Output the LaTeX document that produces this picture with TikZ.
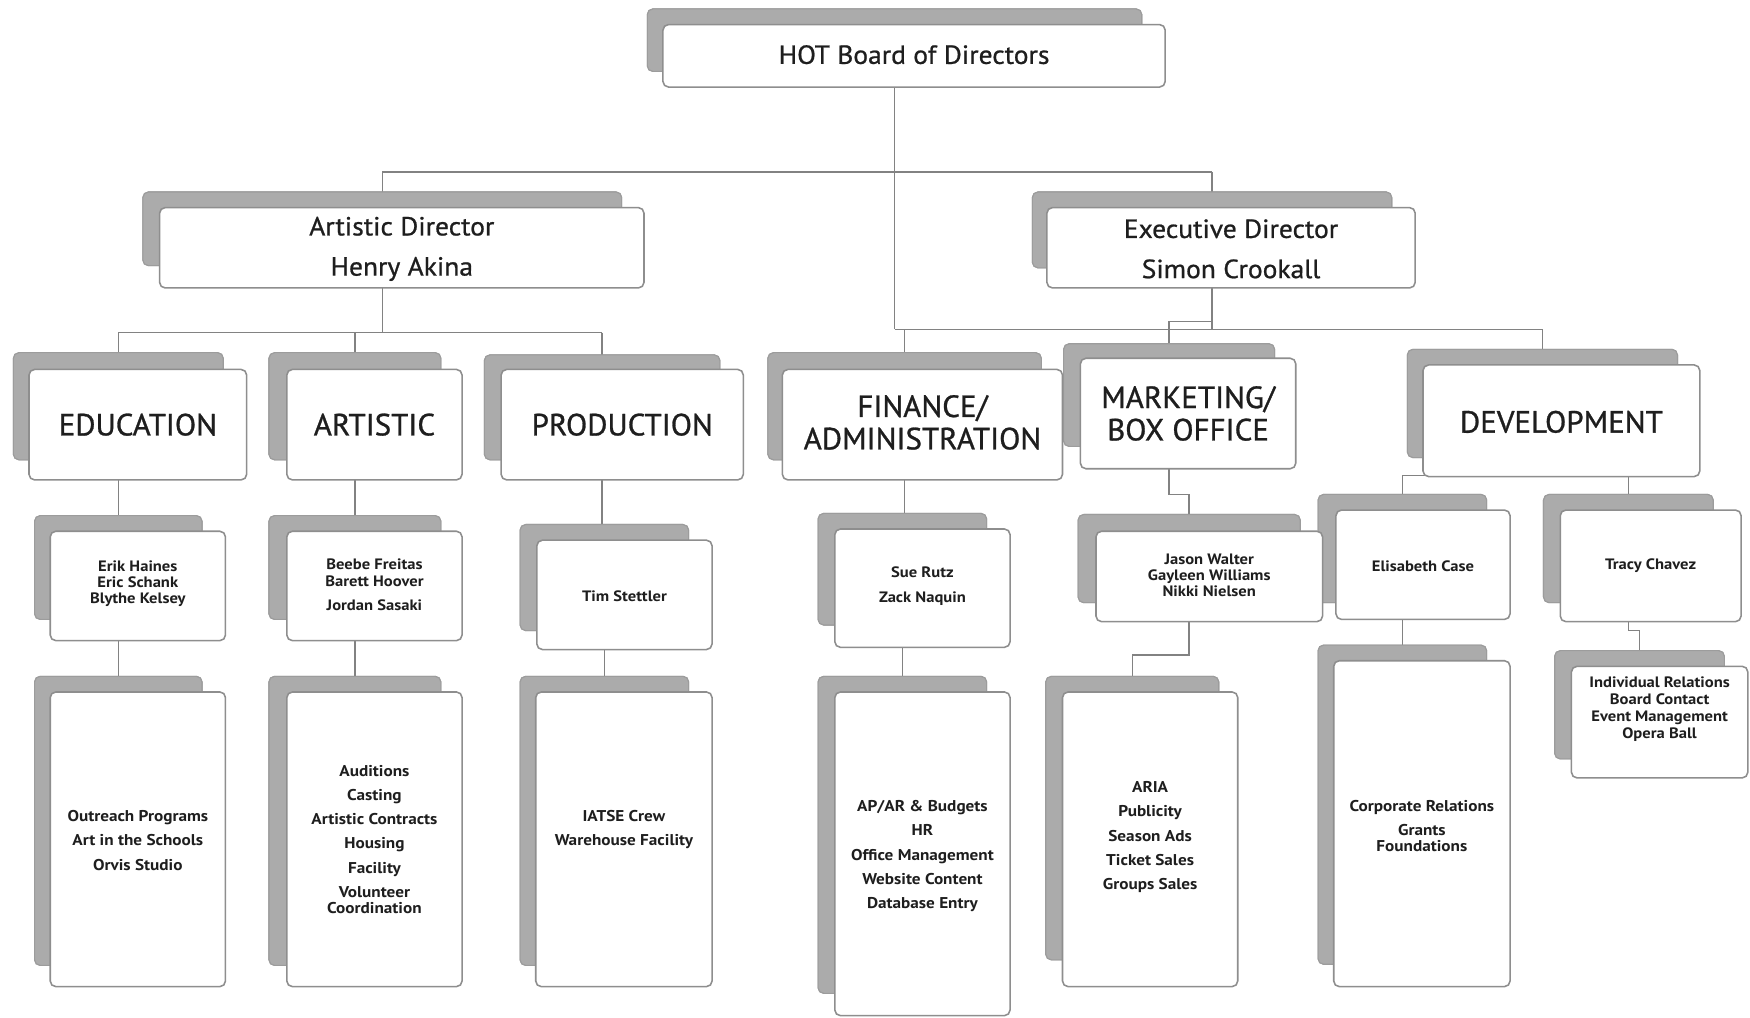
\documentclass[tikz,border=0pt]{standalone}
\usepackage{fontspec}
\setmainfont{PT Sans}
\newfontfamily\headfont{PT Sans}[FakeStretch=1.05, FakeBold=0.8]
\newfontfamily\deptfont{PT Sans}[FakeStretch=1.01, FakeBold=0.9]
\newfontfamily\smallfont{PT Sans}[FakeStretch=1.1]
\usetikzlibrary{calc}
\definecolor{shfill}{HTML}{ABABAB}
\definecolor{shdraw}{HTML}{9C9C9C}
\definecolor{frdraw}{HTML}{8E8E8E}
\definecolor{lncol}{HTML}{828282}
\definecolor{txt}{HTML}{1E1E1E}
\tikzset{
  shadowbox/.style={draw=shdraw, fill=shfill, rounded corners=5pt, line width=1pt, inner sep=0pt},
  frontbox/.style={draw=frdraw, fill=white, rounded corners=5pt, line width=1.4pt, inner sep=0pt},
  conn/.style={draw=lncol, line width=1.3pt},
  titletxt/.style={font=\headfont\fontsize{23.5}{26}\selectfont, text=txt, align=center},
  dirtxt/.style={font=\headfont\fontsize{23.5}{36}\selectfont, text=txt, align=center},
  depttxt/.style={font=\deptfont\fontsize{27.5}{29}\selectfont, text=txt, align=center},
  nametxt/.style={font=\smallfont\bfseries\fontsize{13.5}{14.5}\selectfont, text=txt, align=center},
  functxt/.style={font=\smallfont\bfseries\fontsize{14}{21.7}\selectfont, text=txt, align=center},
  indtxt/.style={font=\smallfont\bfseries\fontsize{13.5}{15.2}\selectfont, text=txt, align=center},
}
% \mkbox{style}{name}{x1}{y1}{x2}{y2}
\newcommand{\mkbox}[6]{\node[#1, minimum width={(#5)-(#3)}, minimum height={(#6)-(#4)}] (#2) at ({((#3)+(#5))/2},{((#4)+(#6))/2}) {};}
\begin{document}
\begin{tikzpicture}[x=1pt,y=-1pt]
\useasboundingbox (0,0) rectangle (1568,912);
\fill[white] (0,0) rectangle (1568,912);

% bus levels
\coordinate (yTop) at (0,154);
\coordinate (yMid) at (0,295);
\coordinate (yBox) at (0,288);
\coordinate (yA) at (0,298);
\coordinate (yJ) at (0,443);
\coordinate (yD) at (0,426);
\coordinate (yK) at (0,587);
\coordinate (yT) at (0,565);

% shadow boxes
\mkbox{shadowbox}{boardS}{580}{8}{1023}{64}
\mkbox{shadowbox}{adS}{128}{172}{557}{238}
\mkbox{shadowbox}{edS}{925}{172}{1247}{240}
\mkbox{shadowbox}{eduS}{12}{316}{200}{412}
\mkbox{shadowbox}{artS}{241}{316}{395}{412}
\mkbox{shadowbox}{prodS}{434}{318}{645}{412}
\mkbox{shadowbox}{finS}{688}{316}{933}{412}
\mkbox{shadowbox}{mktS}{953}{308}{1142}{400}
\mkbox{shadowbox}{devS}{1261}{313}{1503}{410}
\mkbox{shadowbox}{erikS}{31}{462}{181}{555}
\mkbox{shadowbox}{beebeS}{241}{462}{395}{555}
\mkbox{shadowbox}{timS}{466}{470}{617}{565}
\mkbox{shadowbox}{sueS}{733}{460}{884}{560}
\mkbox{shadowbox}{jasonS}{966}{461}{1165}{540}
\mkbox{shadowbox}{elisS}{1181}{443}{1332}{540}
\mkbox{shadowbox}{tracyS}{1383}{443}{1535}{540}
\mkbox{shadowbox}{outrS}{31}{606}{181}{865}
\mkbox{shadowbox}{audS}{241}{606}{395}{865}
\mkbox{shadowbox}{iatseS}{466}{606}{617}{865}
\mkbox{shadowbox}{aparS}{733}{606}{884}{890}
\mkbox{shadowbox}{ariaS}{937}{606}{1092}{860}
\mkbox{shadowbox}{corpS}{1181}{578}{1332}{864}
\mkbox{shadowbox}{indivS}{1393}{583}{1545}{680}

% connectors (between shadow centres; boxes are redrawn over them)
\draw[conn] (boardS.center) -- (boardS.center |- yMid);
\draw[conn] (adS.center |- yTop) -- (edS.center |- yTop);
\draw[conn] (adS.center |- yTop) -- (adS.center);
\draw[conn] (edS.center |- yTop) -- (edS.center);
\draw[conn] (edS.center) -- (edS.center |- yMid);
\draw[conn] (boardS.center |- yMid) -- (devS.center |- yMid);
\draw[conn] (mktS.center |- yBox) rectangle (edS.center |- yMid);
\draw[conn] (finS.center |- yMid) -- (finS.center);
\draw[conn] (mktS.center |- yMid) -- (mktS.center);
\draw[conn] (devS.center |- yMid) -- (devS.center);
\draw[conn] (adS.center) -- (adS.center |- yA);
\draw[conn] (eduS.center |- yA) -- (prodS.center |- yA);
\draw[conn] (eduS.center |- yA) -- (eduS.center);
\draw[conn] (artS.center |- yA) -- (artS.center);
\draw[conn] (prodS.center |- yA) -- (prodS.center);
\draw[conn] (eduS.center) -- (eduS.center |- erikS.center);
\draw[conn] (artS.center) -- (artS.center |- beebeS.center);
\draw[conn] (prodS.center) -- (prodS.center |- timS.center);
\draw[conn] (finS.center) -- (finS.center |- sueS.center);
\draw[conn] (mktS.center) -- (mktS.center |- yJ) -| (jasonS.center);
\draw[conn] (devS.center) -- (devS.center |- yD);
\draw[conn] (elisS.center |- yD) -- (tracyS.center |- yD);
\draw[conn] (elisS.center |- yD) -- (elisS.center);
\draw[conn] (tracyS.center |- yD) -- (tracyS.center);
\draw[conn] (erikS.center) -- (erikS.center |- outrS.center);
\draw[conn] (beebeS.center) -- (beebeS.center |- audS.center);
\draw[conn] (timS.center) -- (timS.center |- iatseS.center);
\draw[conn] (sueS.center) -- (sueS.center |- aparS.center);
\draw[conn] (jasonS.center) -- (jasonS.center |- yK) -| (ariaS.center);
\draw[conn] (elisS.center) -- (elisS.center |- corpS.center);
\draw[conn] (tracyS.center) -- (tracyS.center |- yT) -| (indivS.center);

% shadow boxes again, on top of connectors
\mkbox{shadowbox}{boardS2}{580}{8}{1023}{64}
\mkbox{shadowbox}{adS2}{128}{172}{557}{238}
\mkbox{shadowbox}{edS2}{925}{172}{1247}{240}
\mkbox{shadowbox}{eduS2}{12}{316}{200}{412}
\mkbox{shadowbox}{artS2}{241}{316}{395}{412}
\mkbox{shadowbox}{prodS2}{434}{318}{645}{412}
\mkbox{shadowbox}{finS2}{688}{316}{933}{412}
\mkbox{shadowbox}{mktS2}{953}{308}{1142}{400}
\mkbox{shadowbox}{devS2}{1261}{313}{1503}{410}
\mkbox{shadowbox}{erikS2}{31}{462}{181}{555}
\mkbox{shadowbox}{beebeS2}{241}{462}{395}{555}
\mkbox{shadowbox}{timS2}{466}{470}{617}{565}
\mkbox{shadowbox}{sueS2}{733}{460}{884}{560}
\mkbox{shadowbox}{jasonS2}{966}{461}{1165}{540}
\mkbox{shadowbox}{elisS2}{1181}{443}{1332}{540}
\mkbox{shadowbox}{tracyS2}{1383}{443}{1535}{540}
\mkbox{shadowbox}{outrS2}{31}{606}{181}{865}
\mkbox{shadowbox}{audS2}{241}{606}{395}{865}
\mkbox{shadowbox}{iatseS2}{466}{606}{617}{865}
\mkbox{shadowbox}{aparS2}{733}{606}{884}{890}
\mkbox{shadowbox}{ariaS2}{937}{606}{1092}{860}
\mkbox{shadowbox}{corpS2}{1181}{578}{1332}{864}
\mkbox{shadowbox}{indivS2}{1393}{583}{1545}{680}

% front boxes
\mkbox{frontbox}{board}{594}{22}{1044}{78}
\mkbox{frontbox}{ad}{143}{186}{577}{258}
\mkbox{frontbox}{ed}{938}{186}{1268}{258}
\mkbox{frontbox}{edu}{26}{331}{221}{430}
\mkbox{frontbox}{art}{257}{331}{414}{430}
\mkbox{frontbox}{prod}{449}{331}{666}{430}
\mkbox{frontbox}{fin}{701}{331}{952}{430}
\mkbox{frontbox}{mkt}{968}{321}{1161}{420}
\mkbox{frontbox}{dev}{1275}{327}{1523}{427}
\mkbox{frontbox}{erik}{45}{476}{202}{574}
\mkbox{frontbox}{beebe}{257}{476}{414}{574}
\mkbox{frontbox}{tim}{481}{484}{638}{582}
\mkbox{frontbox}{sue}{748}{474}{905}{580}
\mkbox{frontbox}{jason}{982}{476}{1185}{557}
\mkbox{frontbox}{elis}{1197}{457}{1353}{555}
\mkbox{frontbox}{tracy}{1398}{457}{1560}{557}
\mkbox{frontbox}{outr}{45}{620}{202}{884}
\mkbox{frontbox}{aud}{257}{620}{414}{884}
\mkbox{frontbox}{iatse}{480}{620}{638}{884}
\mkbox{frontbox}{apar}{748}{620}{905}{910}
\mkbox{frontbox}{aria}{952}{620}{1109}{884}
\mkbox{frontbox}{corp}{1195}{592}{1353}{884}
\mkbox{frontbox}{indiv}{1408}{597}{1566}{697}

% texts
\node[titletxt] (boardT) at ($(board.center)+(0,-1)$) {HOT Board of Directors};
\node[dirtxt] (adT) at ($(ad.center)+(0,1)$) {Artistic Director\\Henry Akina};
\node[dirtxt] (edT) at ($(ed.center)+(0,1)$) {Executive Director\\Simon Crookall};
\node[depttxt] (eduT) at (edu.center) {EDUCATION};
\node[depttxt] (artT) at (art.center) {ARTISTIC};
\node[depttxt] (prodT) at (prod.center) {PRODUCTION};
\node[depttxt] (finT) at ($(fin.center)+(0,-2)$) {FINANCE/\\ADMINISTRATION};
\node[depttxt] (mktT) at (mkt.center) {MARKETING/\\BOX OFFICE};
\node[depttxt] (devT) at ($(dev.center)+(0,1)$) {DEVELOPMENT};
\node[nametxt] (erikT) at ($(erik.center)+(0,-2)$) {Erik Haines\\Eric Schank\\Blythe Kelsey};
\node[nametxt] (beebeT) at ($(beebe.center)+(0,-1)$) {Beebe Freitas\\Barett Hoover\\[7pt]Jordan Sasaki};
\node[nametxt] (timT) at ($(tim.center)+(0,1)$) {Tim Stettler};
\node[nametxt] (sueT) at ($(sue.center)+(0,-2)$) {Sue Rutz\\[7.5pt]Zack Naquin};
\node[nametxt] (jasonT) at ($(jason.center)+(0,-1)$) {Jason Walter\\Gayleen Williams\\Nikki Nielsen};
\node[nametxt] (elisT) at ($(elis.center)+(0,1)$) {Elisabeth Case};
\node[nametxt] (tracyT) at ($(tracy.center)+(0,0)$) {Tracy Chavez};
\node[functxt] (outrT) at ($(outr.center)+(0,1)$) {Outreach Programs\\Art in the Schools\\Orvis Studio};
\node[functxt] (audT) at (aud.center) {Auditions\\Casting\\Artistic Contracts\\Housing\\Facility\\Volunteer\\[-7.5pt]Coordination};
\node[functxt] (iatseT) at ($(iatse.center)+(0,-9)$) {IATSE Crew\\Warehouse Facility};
\node[functxt] (aparT) at ($(apar.center)+(0,2)$) {AP/AR \& Budgets\\HR\\Office Management\\Website Content\\Database Entry};
\node[functxt] (ariaT) at ($(aria.center)+(0,-2)$) {ARIA\\Publicity\\Season Ads\\Ticket Sales\\Groups Sales};
\node[functxt] (corpT) at ($(corp.center)+(0,2)$) {Corporate Relations\\Grants\\[-7.5pt]Foundations};
\node[indtxt] (indivT) at ($(indiv.center)+(0,-12)$) {Individual Relations\\Board Contact\\Event Management\\Opera Ball};
\end{tikzpicture}
\end{document}
